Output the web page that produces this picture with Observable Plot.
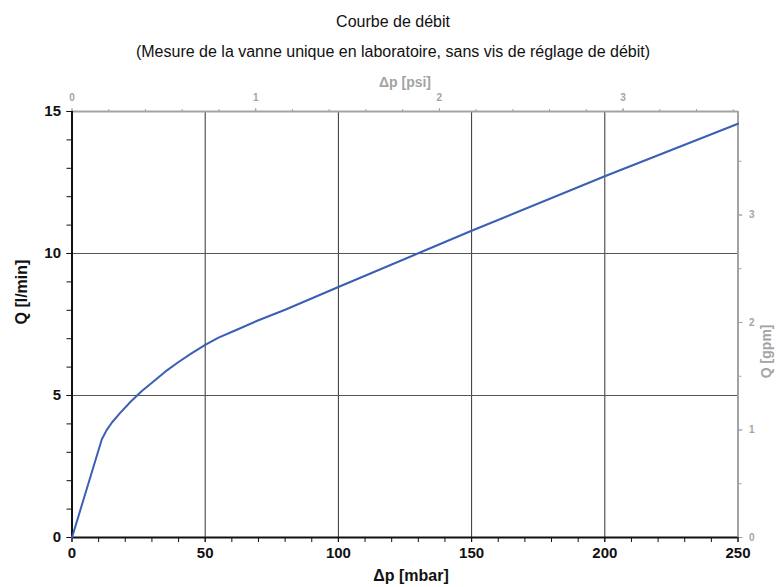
<!DOCTYPE html>
<html>
<head>
<meta charset="utf-8">
<script src="https://cdn.jsdelivr.net/npm/d3@7"></script>
<script src="https://cdn.jsdelivr.net/npm/@observablehq/plot@0.6"></script>
<style>
  html, body { margin: 0; padding: 0; background: #fff; }
  #chart svg { display: block; }
</style>
</head>
<body>
<div id="chart"></div>
<script>
// Data
const title = "Courbe de débit";
const subtitle = "(Mesure de la vanne unique en laboratoire, sans vis de réglage de débit)";
const pressureMbar = [0, 11.2, 13, 15, 18, 22, 26, 30, 35, 40, 45, 50, 55, 61, 70, 80, 100, 130, 150, 200, 250];
const flowLmin     = [0, 3.46, 3.78, 4.05, 4.38, 4.78, 5.14, 5.45, 5.84, 6.18, 6.49, 6.78, 7.04, 7.28, 7.65, 8.02, 8.82, 10.01, 10.8, 12.72, 14.57];
const xTicks = [0, 50, 100, 150, 200, 250];
const yTicks = [0, 5, 10, 15];
const psiTicks = [0, 1, 2, 3];
const gpmTicks = [0, 1, 2, 3];
const MBAR_PER_PSI = 68.9476;
const LMIN_PER_GPM = 3.78541;

const data = pressureMbar.map((p, i) => ({p, q: flowLmin[i]}));
const gray = "#a3a3a3";
const font = "'Liberation Sans', Arial, sans-serif";

const chart = Plot.plot({
  width: 784,
  height: 587,
  marginLeft: 71.5,
  marginRight: 46.5,
  marginTop: 111,
  marginBottom: 50,
  x: {domain: [0, 250]},
  y: {domain: [0, 15]},
  style: {fontFamily: font, background: "#fff", overflow: "visible"},
  marks: [
    Plot.gridX([50, 100, 150, 200], {stroke: "#333", strokeOpacity: 1, strokeWidth: 1}),
    Plot.gridY([5, 10], {stroke: "#555", strokeOpacity: 1, strokeWidth: 1}),
    // top (psi) axis
    Plot.axisX({anchor: "top", ticks: d3.range(0, 3.61, 0.2).map(v => v * MBAR_PER_PSI), tickFormat: () => "", tickSize: 3, stroke: gray, label: null}),
    Plot.axisX({anchor: "top", ticks: psiTicks.map(v => v * MBAR_PER_PSI), tickFormat: d => String(Math.round(d / MBAR_PER_PSI)), tickSize: 4, tickPadding: 7, color: gray, fontSize: 10, fontWeight: "bold", label: null}),
    // right (gpm) axis
    Plot.axisY({anchor: "right", ticks: d3.range(0, 3.9, 0.5).map(v => v * LMIN_PER_GPM), tickFormat: () => "", tickSize: 3, stroke: gray, label: null}),
    Plot.axisY({anchor: "right", ticks: gpmTicks.map(v => v * LMIN_PER_GPM), tickFormat: d => String(Math.round(d / LMIN_PER_GPM)), tickSize: 4, tickPadding: 7, color: gray, fontSize: 10, fontWeight: "bold", label: null}),
    // bottom axis
    Plot.axisX({anchor: "bottom", ticks: d3.range(0, 251, 10), tickFormat: () => "", tickSize: 5, stroke: "#111", label: null}),
    Plot.axisX({anchor: "bottom", ticks: xTicks, tickSize: 5, tickPadding: 5, color: "#111", fontSize: 15, fontWeight: "bold", label: null}),
    // left axis
    Plot.axisY({anchor: "left", ticks: d3.range(0, 15.1, 1), tickFormat: () => "", tickSize: 5, stroke: "#111", label: null}),
    Plot.axisY({anchor: "left", ticks: yTicks, tickSize: 5, tickPadding: 6, color: "#111", fontSize: 15, fontWeight: "bold", label: null}),
    // frame edges
    Plot.ruleY([15], {stroke: gray, strokeWidth: 2}),
    Plot.ruleX([250], {stroke: gray, strokeWidth: 2}),
    Plot.ruleX([0], {stroke: "#111", strokeWidth: 2}),
    Plot.ruleY([0], {stroke: "#111", strokeWidth: 2}),
    // curve
    Plot.line(data, {x: "p", y: "q", stroke: "#3a5fb4", strokeWidth: 2, curve: "linear"}),
    // axis titles
    Plot.text(["Δp [mbar]"], {frameAnchor: "bottom", dx: 6, dy: 43, fontSize: 16, fontWeight: "bold", fill: "#111"}),
    Plot.text(["Δp [psi]"], {frameAnchor: "top", dy: -34, fontSize: 14, fontWeight: "bold", fill: gray}),
    Plot.text(["Q [l/min]"], {frameAnchor: "left", dx: -50, rotate: -90, fontSize: 16, fontWeight: "bold", fill: "#111"}),
    Plot.text(["Q [gpm]"], {frameAnchor: "right", dx: 29, rotate: -90, fontSize: 14, fontWeight: "bold", fill: gray}),
    // title & subtitle
    Plot.text([title], {frameAnchor: "top", dx: -12, dy: -96, fontSize: 16, fill: "#111"}),
    Plot.text([subtitle], {frameAnchor: "top", dx: -12, dy: -66, fontSize: 16, fill: "#111"})
  ]
});
document.getElementById("chart").appendChild(chart);
</script>
</body>
</html>
